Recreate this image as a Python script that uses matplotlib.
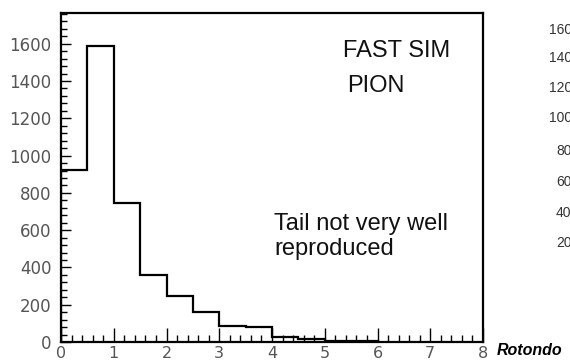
import numpy as np
import matplotlib.pyplot as plt
from matplotlib.ticker import MultipleLocator

# pion distribution, 0.5 wide bins from 0 to 6
edges = np.arange(0, 6.01, 0.5)
counts = [925, 1588, 745, 360, 249, 163, 86, 80, 28, 14, 8, 6]

# y labels of the neighbouring panel (cut at the right edge)
side_labels = ["160", "140", "120", "100", "80", "60", "40", "20"]
side_x = [549, 549, 549, 549, 556, 556, 556, 556]
side_y = [30, 58, 88, 118, 151, 182, 213, 243]

W, H = 570, 363


def px(x, y):
    # pixel position (from top-left) -> figure fraction
    return x / W, 1 - y / H


fig = plt.figure(figsize=(W / 100, H / 100), dpi=100)
ax = fig.add_axes([61 / W, 21 / H, 422 / W, 329 / H])

ax.stairs(counts, edges, color='black', linewidth=1.6, baseline=0)

ax.set_xlim(0, 8)
ax.set_ylim(0, 1765)

ax.xaxis.set_major_locator(MultipleLocator(1))
ax.xaxis.set_minor_locator(MultipleLocator(0.2))
ax.yaxis.set_major_locator(MultipleLocator(200))
ax.yaxis.set_minor_locator(MultipleLocator(40))

ax.tick_params(which='both', direction='in', top=False, right=False,
               colors='black', labelcolor='#555555', labelsize=12)
ax.tick_params(axis='x', which='major', length=10, width=1, pad=3,
               labelsize=11.5)
ax.tick_params(axis='x', which='minor', length=5, width=1)
ax.tick_params(axis='y', which='major', length=7, width=1, pad=7)
ax.tick_params(axis='y', which='minor', length=4, width=1)

for s in ax.spines.values():
    s.set_linewidth(1.6)

notes = [("FAST SIM", 343, 57), ("PION", 347, 92),
         ("Tail not very well", 274, 230), ("reproduced", 274, 255)]
for txt, x, y in notes:
    fig.text(*px(x, y), txt, fontsize=17, family='Liberation Sans',
             va='baseline', color='#111111')

for lab, x, y in zip(side_labels, side_x, side_y):
    fig.text(*px(x, y), lab, fontsize=10, color='#333333',
             ha='left', va='center', family='Liberation Sans')

fig.text(*px(497, 355), "Rotondo", fontsize=11.5,
         fontweight='bold', fontstyle='italic', family='Liberation Sans',
         va='baseline')

fig.savefig('out.png', dpi=100)
